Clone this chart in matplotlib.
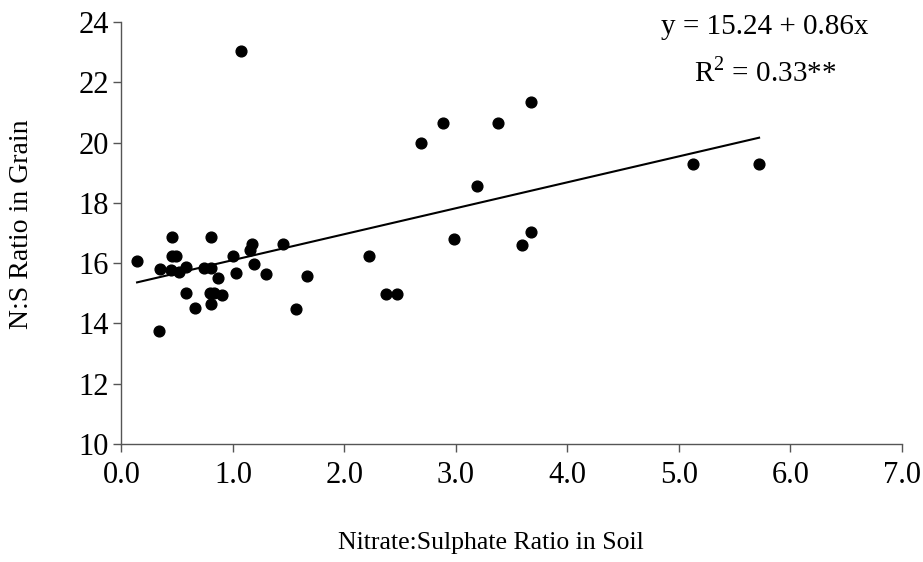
import matplotlib
matplotlib.use('Agg')
import matplotlib.pyplot as plt
import numpy as np

# nitrate:sulphate ratio in soil vs N:S ratio in grain
soil_ratio = [0.14, 0.34, 0.35, 0.44, 0.45, 0.49, 0.45, 0.52, 0.58, 0.58, 0.66,
              0.74, 0.80, 0.80, 0.79, 0.83, 0.90, 0.80, 0.87, 1.00, 1.03, 1.07,
              1.15, 1.17, 1.19, 1.30, 1.45, 1.57, 1.66, 2.22, 2.37, 2.47, 2.69,
              2.88, 2.98, 3.19, 3.38, 3.59, 3.67, 3.67, 5.13, 5.72]
grain_ratio = [16.07, 13.75, 15.80, 15.78, 16.24, 16.24, 16.85, 15.70, 15.86, 15.0, 14.50,
               15.85, 15.85, 16.85, 15.0, 15.0, 14.95, 14.65, 15.50, 16.24, 15.66, 23.05,
               16.43, 16.65, 15.98, 15.63, 16.65, 14.48, 15.57, 16.24, 14.98, 14.98, 20.0,
               20.64, 16.79, 18.56, 20.64, 16.60, 17.02, 21.34, 19.28, 19.28]

intercept = 15.24
slope = 0.86

plt.rcParams['font.family'] = ['Liberation Serif', 'DejaVu Serif']
plt.rcParams['mathtext.fontset'] = 'custom'
plt.rcParams['mathtext.rm'] = 'Liberation Serif'

W, H = 923, 562
fig = plt.figure(figsize=(W / 100, H / 100), dpi=100)
ax = fig.add_axes([0.1316, 0.21, 0.8454, 0.751])

ax.scatter(soil_ratio, grain_ratio, s=60, color='black', zorder=3)

xl = np.array([min(soil_ratio), max(soil_ratio)])
ax.plot(xl, intercept + slope * xl, color='black', lw=1.5)

ax.set_xlim(0, 7)
ax.set_ylim(10, 24)
ax.set_xticks(np.arange(0, 7.5, 1.0))
ax.set_xticklabels(['%.1f' % v for v in np.arange(0, 7.5, 1.0)])
ax.set_yticks(np.arange(10, 25, 2))

for s in ['top', 'right']:
    ax.spines[s].set_visible(False)
for s in ['left', 'bottom']:
    ax.spines[s].set_color('#555555')
    ax.spines[s].set_linewidth(1.0)

ax.tick_params(axis='both', direction='out', length=6, width=1, color='#555555',
               labelsize=22)
ax.tick_params(axis='y', pad=3)
ax.tick_params(axis='x', pad=6)

# axis titles placed in figure pixels
fig.text(491 / W, 1 - 543 / H, 'Nitrate:Sulphate Ratio in Soil', fontsize=18.5,
         ha='center', va='center')
fig.text(22 / W, 1 - 224 / H, 'N:S Ratio in Grain', fontsize=20, rotation=90,
         ha='center', va='center')

fig.text(765 / W, 1 - 27 / H, 'y = 15.24 + 0.86x', fontsize=21,
         ha='center', va='center')
fig.text(765 / W, 1 - 72 / H, 'R$^2$ = 0.33**', fontsize=21,
         ha='center', va='center')

fig.savefig('out.png', dpi=100)
